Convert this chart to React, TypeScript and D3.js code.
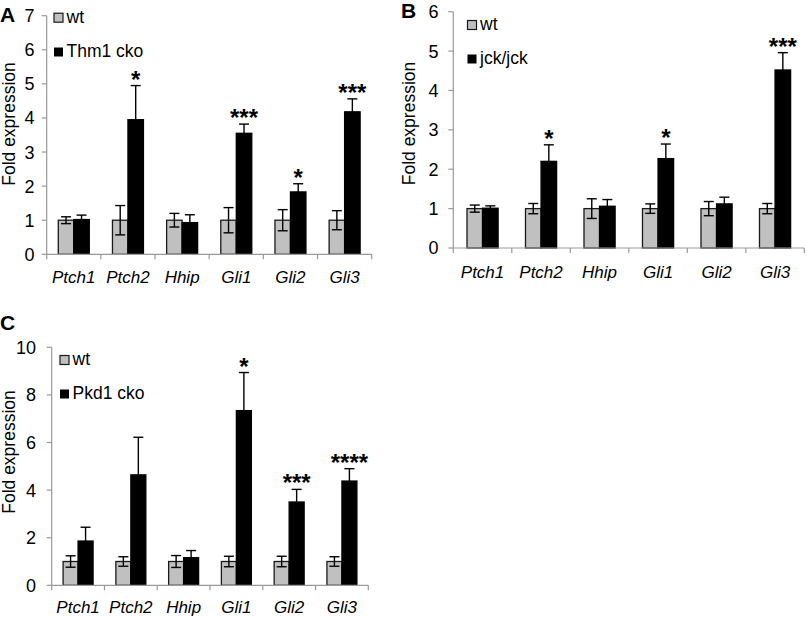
import React from "react";
import * as d3 from "d3";

const categories = ["Ptch1", "Ptch2", "Hhip", "Gli1", "Gli2", "Gli3"];

const aWt = [1, 1, 1, 1, 1, 1];
const aWtErr = [0.1, 0.43, 0.2, 0.37, 0.31, 0.28];
const aMut = [1.02, 3.95, 0.93, 3.55, 1.83, 4.18];
const aMutErr = [0.13, 1.0, 0.23, 0.27, 0.24, 0.38];
const aSig = ["", "*", "", "***", "*", "***"];
const aTicks = [0, 1, 2, 3, 4, 5, 6, 7];

const bWt = [1, 1, 1, 1, 1, 1];
const bWtErr = [0.09, 0.13, 0.25, 0.12, 0.18, 0.13];
const bMut = [1.01, 2.2, 1.06, 2.27, 1.12, 4.52];
const bMutErr = [0.06, 0.42, 0.17, 0.37, 0.17, 0.44];
const bSig = ["", "*", "", "*", "", "***"];
const bTicks = [0, 1, 2, 3, 4, 5, 6];

const cWt = [1, 1, 1, 1, 1, 1];
const cWtErr = [0.24, 0.2, 0.25, 0.22, 0.22, 0.2];
const cMut = [1.86, 4.64, 1.16, 7.34, 3.5, 4.38];
const cMutErr = [0.58, 1.58, 0.3, 1.6, 0.53, 0.52];
const cSig = ["", "", "", "*", "***", "****"];
const cTicks = [0, 2, 4, 6, 8, 10];

const FONT = "'Liberation Sans', Arial, sans-serif";
const GRAY = "#c0c0c0";
const AXIS = "#9a9a9a";

type PanelProps = {
  letter: string;
  letterX: number;
  letterY: number;
  x0: number;
  x1: number;
  yBottom: number;
  yTop: number;
  yMax: number;
  ticks: number[];
  tickLabelX: number;
  titleX: number;
  titleY: number;
  pad: number;
  catOffset: number;
  wt: number[];
  wtErr: number[];
  mut: number[];
  mutErr: number[];
  sig: string[];
  mutLabel: string;
  legX: number;
  legY1: number;
  legY2: number;
};

function Panel(p: PanelProps) {
  const x = d3.scaleBand<string>().domain(categories).range([p.x0, p.x1]).paddingInner(p.pad).paddingOuter(p.pad / 2);
  const inner = d3.scaleBand<string>().domain(["wt", "mut"]).range([0, x.bandwidth()]);
  const y = d3.scaleLinear().domain([0, p.yMax]).range([p.yBottom, p.yTop]);
  const step = x.step();
  const bounds = categories.map((c) => (x(c) as number) - (step * p.pad) / 2).concat([p.x1]);
  const capW = 5;
  return (
    <g>
      <text x={p.letterX} y={p.letterY} fontFamily={FONT} fontWeight="bold" fontSize={21}>
        {p.letter}
      </text>
      {/* y axis */}
      <line x1={p.x0} x2={p.x0} y1={y(0)} y2={y(p.yMax)} stroke={AXIS} strokeWidth={1.2} />
      {p.ticks.map((t) => (
        <g key={t}>
          <line x1={p.x0 - 5} x2={p.x0} y1={y(t)} y2={y(t)} stroke={AXIS} strokeWidth={1.2} />
          <text x={p.tickLabelX} y={y(t)} dy="0.36em" textAnchor="end" fontFamily={FONT} fontSize={18}>
            {t}
          </text>
        </g>
      ))}
      <text
        transform={`translate(${p.titleX},${p.titleY}) rotate(-90)`}
        textAnchor="middle"
        fontFamily={FONT}
        fontSize={17.5}
      >
        Fold expression
      </text>
      {/* bars */}
      {categories.map((c, i) => {
        const gx = x(c) as number;
        const wx = gx + (inner("wt") as number);
        const mx = gx + (inner("mut") as number);
        const bw = inner.bandwidth();
        const wc = wx + bw / 2;
        const mc = mx + bw / 2;
        const wTop = p.wt[i] + p.wtErr[i];
        const wBot = p.wt[i] - p.wtErr[i];
        const mTop = p.mut[i] + p.mutErr[i];
        const mBot = p.mut[i] - p.mutErr[i];
        return (
          <g key={c}>
            <rect x={wx} y={y(p.wt[i])} width={bw} height={y(0) - y(p.wt[i])} fill={GRAY} stroke="#1a1a1a" strokeWidth={1.3} />
            <rect x={mx} y={y(p.mut[i])} width={bw} height={y(0) - y(p.mut[i])} fill="#000" stroke="#000" strokeWidth={1.3} />
            <line x1={wc} x2={wc} y1={y(wTop)} y2={y(wBot)} stroke="#000" strokeWidth={1.4} />
            <line x1={wc - capW} x2={wc + capW} y1={y(wTop)} y2={y(wTop)} stroke="#000" strokeWidth={1.4} />
            <line x1={wc - capW} x2={wc + capW} y1={y(wBot)} y2={y(wBot)} stroke="#000" strokeWidth={1.4} />
            <line x1={mc} x2={mc} y1={y(mTop)} y2={y(mBot)} stroke="#000" strokeWidth={1.4} />
            <line x1={mc - capW} x2={mc + capW} y1={y(mTop)} y2={y(mTop)} stroke="#000" strokeWidth={1.4} />
            {p.sig[i] && (
              <text x={mc} y={y(mTop) + 2} textAnchor="middle" fontFamily={FONT} fontWeight="bold" fontSize={24}>
                {p.sig[i]}
              </text>
            )}
          </g>
        );
      })}
      {/* x axis */}
      <line x1={p.x0} x2={p.x1} y1={y(0)} y2={y(0)} stroke={AXIS} strokeWidth={1.2} />
      {bounds.map((b, i) => (
        <line key={i} x1={b} x2={b} y1={y(0)} y2={y(0) + 5} stroke={AXIS} strokeWidth={1.2} />
      ))}
      {categories.map((c) => (
        <text
          key={c}
          x={(x(c) as number) + x.bandwidth() / 2}
          y={y(0) + p.catOffset}
          textAnchor="middle"
          fontFamily={FONT}
          fontStyle="italic"
          fontSize={17}
        >
          {c}
        </text>
      ))}
      {/* legend */}
      <rect x={p.legX} y={p.legY1 - 9.5} width={9} height={9} fill={GRAY} stroke="#1a1a1a" strokeWidth={1.2} />
      <text x={p.legX + 12.5} y={p.legY1} fontFamily={FONT} fontSize={17.5}>
        wt
      </text>
      <rect x={p.legX} y={p.legY2 - 9.5} width={9} height={9} fill="#000" />
      <text x={p.legX + 12.5} y={p.legY2} fontFamily={FONT} fontSize={17.5}>
        {p.mutLabel}
      </text>
    </g>
  );
}

export default function App() {
  return (
    <svg width={807} height={617} style={{ position: "absolute", left: 0, top: 0, background: "#fff" }}>
      <rect width={807} height={617} fill="#fff" />
      <Panel
        letter="A" letterX={0} letterY={22}
        x0={46.7} x1={371.7} yBottom={254.3} yTop={15.7} yMax={7} ticks={aTicks}
        tickLabelX={34.5} titleX={15} titleY={124} pad={0.428} catOffset={29}
        wt={aWt} wtErr={aWtErr} mut={aMut} mutErr={aMutErr} sig={aSig}
        mutLabel="Thm1 cko" legX={54} legY1={22.7} legY2={57}
      />
      <Panel
        letter="B" letterX={401} letterY={17.5}
        x0={453.3} x1={804.3} yBottom={248} yTop={11.7} yMax={6} ticks={bTicks}
        tickLabelX={438.5} titleX={415} titleY={123.5} pad={0.468} catOffset={29.5}
        wt={bWt} wtErr={bWtErr} mut={bMut} mutErr={bMutErr} sig={bSig}
        mutLabel="jck/jck" legX={467.5} legY1={30} legY2={64}
      />
      <Panel
        letter="C" letterX={0} letterY={330}
        x0={51.7} x1={368.3} yBottom={585.3} yTop={347.3} yMax={10} ticks={cTicks}
        tickLabelX={36} titleX={15} titleY={452} pad={0.432} catOffset={27.5}
        wt={cWt} wtErr={cWtErr} mut={cMut} mutErr={cMutErr} sig={cSig}
        mutLabel="Pkd1 cko" legX={60} legY1={365} legY2={399}
      />
    </svg>
  );
}
